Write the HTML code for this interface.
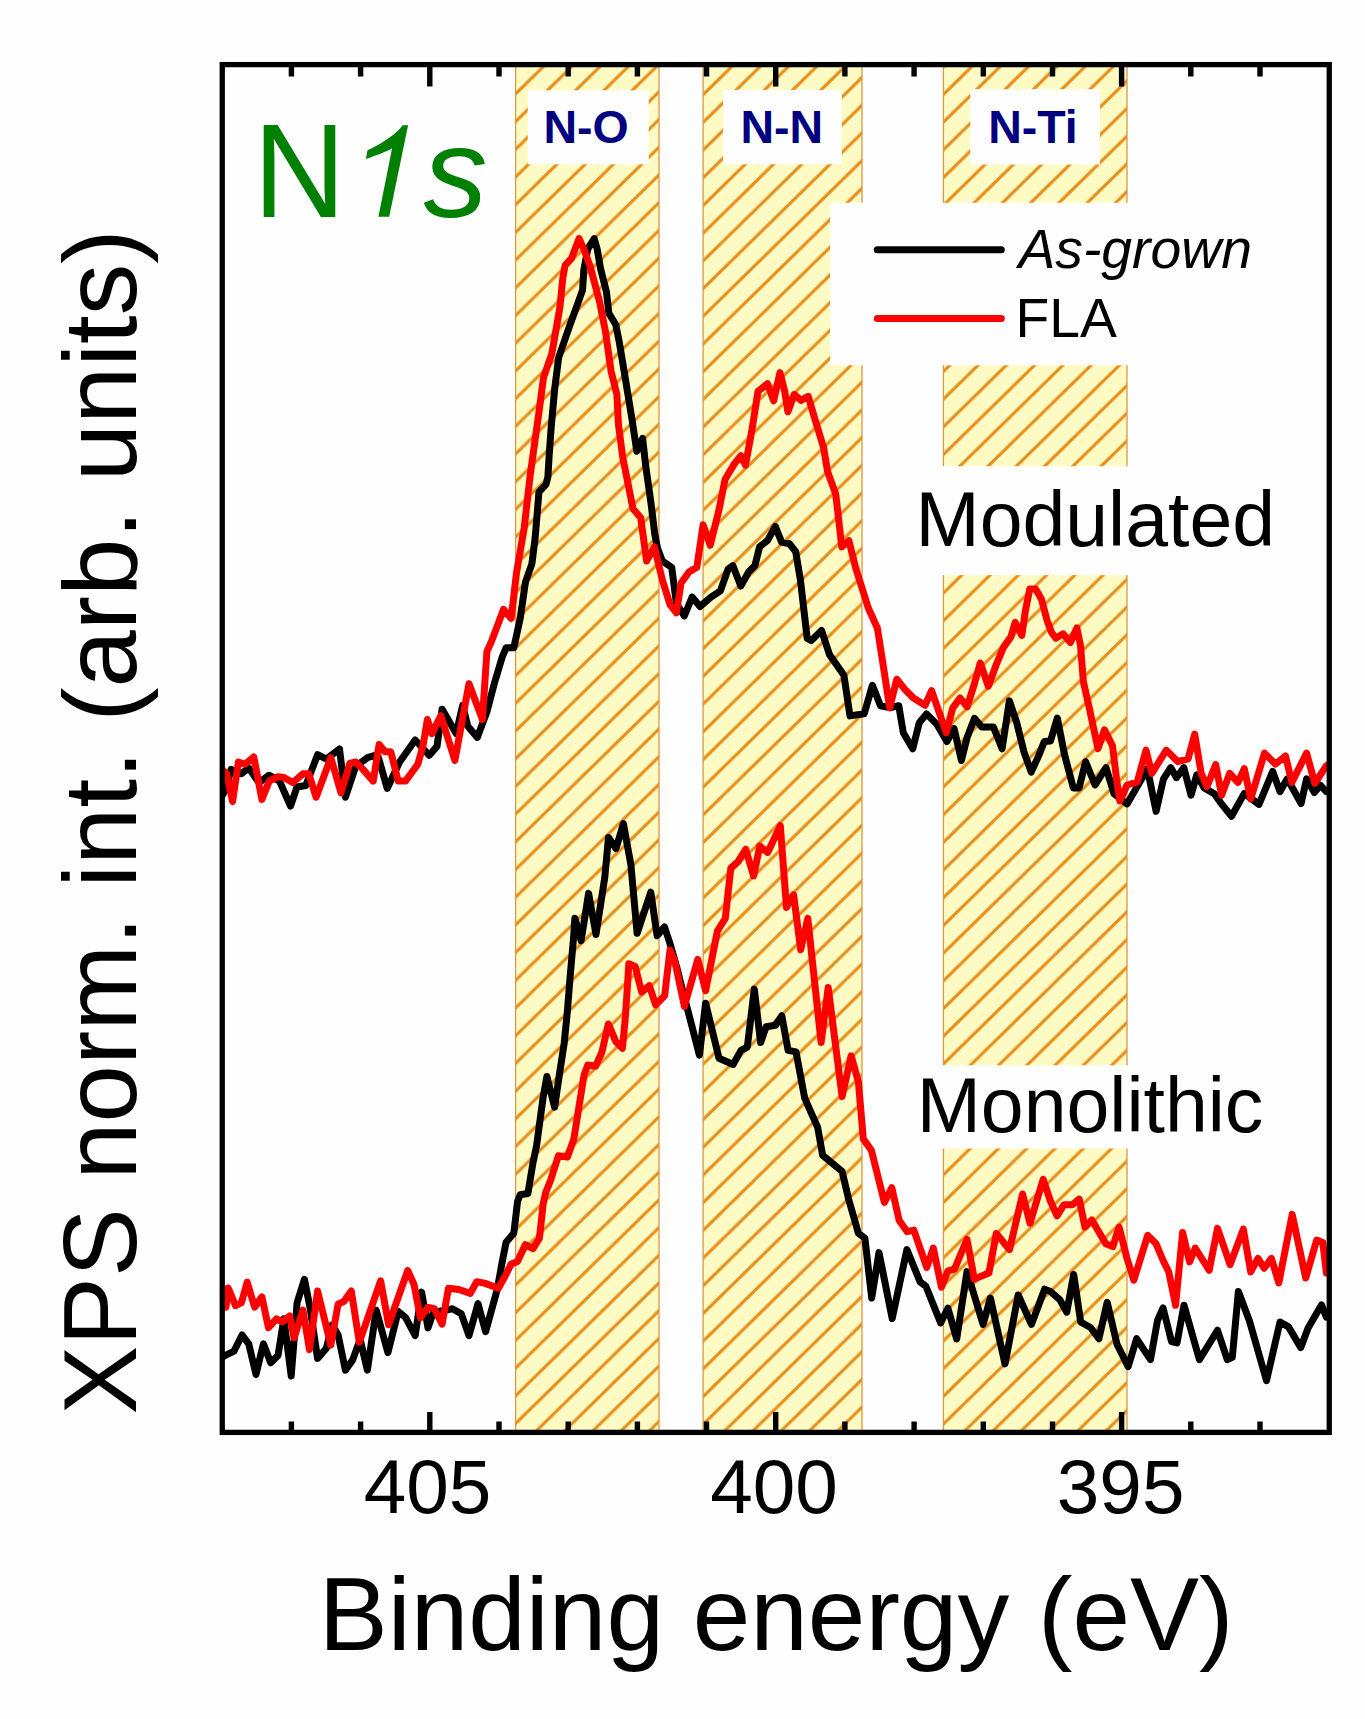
<!DOCTYPE html>
<html><head><meta charset="utf-8"><style>
html,body{margin:0;padding:0;background:#fefefe;}
svg{display:block;}
text{font-family:"Liberation Sans",sans-serif;}
</style></head><body>
<svg width="1365" height="1719" viewBox="0 0 1365 1719">
<defs>
<pattern id="h0" patternUnits="userSpaceOnUse" x="17.75" y="0" width="28.27" height="27.7">
<rect width="28.27" height="27.7" fill="#fdfac4"/>
<path d="M-2,29.66 L30.27,-1.96 M-2,1.96 L2,-1.96 M26.27,29.66 L30.27,25.74" stroke="#e68f1c" stroke-width="3.1" fill="none"/>
</pattern>
<pattern id="h1" patternUnits="userSpaceOnUse" x="8.20" y="0" width="28.27" height="27.7">
<rect width="28.27" height="27.7" fill="#fdfac4"/>
<path d="M-2,29.66 L30.27,-1.96 M-2,1.96 L2,-1.96 M26.27,29.66 L30.27,25.74" stroke="#e68f1c" stroke-width="3.1" fill="none"/>
</pattern>
<pattern id="h2" patternUnits="userSpaceOnUse" x="22.10" y="0" width="28.27" height="27.7">
<rect width="28.27" height="27.7" fill="#fdfac4"/>
<path d="M-2,29.66 L30.27,-1.96 M-2,1.96 L2,-1.96 M26.27,29.66 L30.27,25.74" stroke="#e68f1c" stroke-width="3.1" fill="none"/>
</pattern>
<clipPath id="plot"><rect x="222.2" y="64.6" width="1107.0" height="1367.8"/></clipPath>
</defs>
<rect width="1365" height="1719" fill="#fefefe"/>
<rect x="515.6" y="64.6" width="143.39999999999998" height="1367.8000000000002" fill="url(#h0)"/>
<line x1="515.6" y1="64.6" x2="515.6" y2="1432.4" stroke="#dc9644" stroke-width="1.3"/>
<line x1="659.0" y1="64.6" x2="659.0" y2="1432.4" stroke="#dc9644" stroke-width="1.3"/>
<rect x="703.1" y="64.6" width="158.89999999999998" height="1367.8000000000002" fill="url(#h1)"/>
<line x1="703.1" y1="64.6" x2="703.1" y2="1432.4" stroke="#dc9644" stroke-width="1.3"/>
<line x1="862.0" y1="64.6" x2="862.0" y2="1432.4" stroke="#dc9644" stroke-width="1.3"/>
<rect x="943.4" y="64.6" width="183.60000000000002" height="1367.8000000000002" fill="url(#h2)"/>
<line x1="943.4" y1="64.6" x2="943.4" y2="1432.4" stroke="#dc9644" stroke-width="1.3"/>
<line x1="1127.0" y1="64.6" x2="1127.0" y2="1432.4" stroke="#dc9644" stroke-width="1.3"/>
<rect x="527.8" y="90.3" width="120.9" height="74.0" fill="#fefefe"/>
<rect x="723.2" y="89.9" width="118.7" height="74.4" fill="#fefefe"/>
<rect x="970.3" y="89.2" width="129.7" height="75.4" fill="#fefefe"/>
<rect x="830.1" y="202.8" width="439.9" height="162.5" fill="#fefefe"/>
<rect x="905" y="466.2" width="380.0" height="108.9" fill="#fefefe"/>
<rect x="905" y="1065.3" width="380.0" height="83.2" fill="#fefefe"/>
<g clip-path="url(#plot)" fill="none" stroke-width="7" stroke-linejoin="round" stroke-linecap="round">
<polyline points="222.5,795.0 226.0,788.4 231.1,769.4 241.4,773.8 248.7,768.0 259.0,782.6 269.2,775.2 279.5,781.1 290.5,806.0 297.0,787.0 305.8,785.5 317.6,754.7 326.4,759.1 339.5,748.9 345.4,797.2 355.7,766.4 367.4,757.7 377.6,754.7 387.2,788.4 399.6,762.0 415.2,740.0 429.3,755.3 437.0,746.4 442.1,709.3 456.2,733.6 462.6,705.4 467.7,725.9 477.3,737.4 486.9,711.8 494.6,682.4 502.3,656.8 506.1,647.8 513.8,647.8 520.2,618.4 525.5,581.8 531.9,563.8 535.1,538.2 537.6,508.8 538.9,492.2 546.0,484.5 547.9,476.8 549.2,455.0 551.1,428.2 554.7,388.7 558.7,357.3 569.2,327.1 578.5,301.5 582.6,289.8 583.8,270.0 587.8,249.1 594.2,238.6 597.2,249.1 600.6,268.9 606.5,292.2 608.8,313.1 615.8,324.7 619.3,342.2 625.1,377.1 632.1,420.0 636.8,451.2 642.6,438.4 645.8,466.6 650.9,502.4 654.8,534.4 657.6,548.4 662.3,561.0 671.7,567.3 676.4,603.4 684.3,616.0 692.1,597.1 700.0,606.5 711.0,597.1 720.4,590.8 728.2,568.8 732.9,565.7 740.8,586.1 748.6,572.0 754.9,565.7 759.6,546.8 767.5,540.6 775.3,526.4 781.6,542.1 789.4,543.7 795.7,551.6 800.4,579.8 807.2,638.5 811.3,640.6 821.5,630.4 829.6,654.8 843.9,675.2 850.0,715.9 864.2,713.8 872.4,685.3 880.5,705.7 890.7,707.7 898.8,705.7 903.3,732.8 912.7,748.8 919.3,722.7 926.5,713.9 936.7,724.1 946.9,741.6 954.1,728.5 961.4,760.5 967.2,737.2 974.5,718.3 981.8,727.0 993.4,727.0 1002.1,748.8 1009.4,700.9 1016.7,722.7 1023.9,751.7 1031.2,772.1 1038.5,756.1 1044.3,741.6 1050.5,741.0 1057.3,718.1 1064.5,754.5 1073.3,787.9 1079.1,787.9 1085.6,761.7 1095.1,785.0 1106.0,767.6 1114.0,793.7 1127.1,803.9 1137.2,786.5 1147.4,769.0 1156.1,811.2 1163.4,779.2 1170.7,767.6 1176.5,777.7 1183.8,767.6 1191.0,795.2 1196.8,774.8 1204.1,787.9 1214.3,793.7 1220.5,802.6 1231.5,816.3 1244.3,793.4 1259.0,804.4 1272.7,771.4 1280.0,791.6 1287.3,778.8 1301.1,803.5 1306.6,778.8 1314.4,792.5 1320.3,785.2 1326.3,791.6 1329.0,790.0" stroke="#000"/>
<polyline points="222.5,770.0 226.7,773.8 232.6,801.6 238.4,762.0 245.0,764.2 253.8,756.9 261.9,799.4 269.2,781.1 278.0,776.7 283.9,777.4 292.7,782.6 302.9,773.8 308.8,773.8 316.1,797.2 330.8,757.7 341.0,792.8 349.8,763.5 355.7,762.0 363.0,769.4 373.2,781.1 379.1,744.5 385.0,751.8 390.8,751.8 398.2,781.1 405.5,781.1 417.8,764.3 422.9,746.4 427.4,719.5 431.9,733.6 440.8,715.7 454.9,760.4 469.0,683.7 482.4,719.5 486.9,651.7 492.0,640.1 503.5,609.4 511.2,618.4 516.5,572.8 524.2,528.0 530.0,476.8 534.4,444.8 538.9,412.8 543.6,377.1 551.8,353.8 559.9,307.3 562.8,278.2 565.1,265.4 571.5,258.4 579.1,238.6 584.3,250.3 590.2,266.5 599.5,301.5 605.3,330.6 611.1,371.3 616.9,394.6 618.5,425.0 622.8,457.6 633.0,508.8 640.7,517.8 646.6,561.0 654.4,546.8 662.3,579.8 670.1,604.9 676.4,612.8 681.1,583.0 689.0,572.0 696.8,567.3 703.1,524.9 710.2,545.3 718.8,510.7 725.1,479.3 734.5,463.6 740.8,455.8 745.5,465.2 751.8,430.7 758.0,391.4 767.5,383.6 773.7,400.8 780.0,372.6 784.7,391.4 787.9,411.8 794.2,394.5 801.1,400.4 808.2,396.3 815.4,420.7 823.5,447.2 827.6,471.6 835.7,494.0 841.8,546.9 848.9,540.8 856.1,569.3 868.3,608.0 877.4,628.3 882.5,660.9 889.7,707.7 896.8,679.2 904.7,689.2 913.4,698.0 925.1,705.2 931.6,690.7 938.2,709.6 946.2,732.8 952.7,708.1 960.0,698.0 967.2,706.7 974.5,683.4 980.3,663.0 988.3,686.3 996.3,664.5 1003.6,647.1 1010.9,636.9 1015.2,622.3 1021.8,635.4 1025.4,610.7 1029.8,588.9 1035.6,588.9 1041.4,599.1 1047.2,620.9 1051.6,632.5 1055.8,638.2 1063.1,633.8 1070.4,642.5 1076.9,628.0 1080.5,645.4 1083.4,681.8 1089.3,707.9 1098.0,748.7 1104.5,729.8 1112.5,745.7 1116.9,782.1 1119.8,801.0 1127.1,785.0 1137.2,782.1 1146.0,750.1 1151.8,773.4 1166.3,750.1 1177.9,761.7 1188.1,758.8 1194.7,734.1 1201.2,773.4 1207.0,786.5 1215.7,764.6 1221.6,795.2 1229.7,773.3 1237.9,782.4 1244.3,768.7 1250.7,798.9 1264.5,753.1 1275.4,764.1 1285.5,755.9 1291.9,782.4 1306.6,753.1 1314.8,783.3 1326.3,765.9 1329.0,764.0" stroke="#f00"/>
<polyline points="222.5,1357.0 225.3,1355.5 234.0,1351.1 242.1,1335.0 248.7,1343.8 256.0,1374.5 263.4,1343.8 270.7,1362.8 278.0,1355.5 283.9,1318.9 291.2,1376.0 297.1,1302.7 304.4,1279.3 310.2,1308.6 317.6,1358.4 326.4,1348.2 332.2,1324.7 338.1,1335.0 345.4,1370.1 352.7,1359.9 360.1,1339.4 367.4,1370.1 376.2,1310.1 387.9,1352.6 398.2,1311.5 405.5,1317.4 415.2,1335.6 421.6,1292.1 428.0,1327.9 433.2,1312.6 452.4,1308.7 461.3,1313.8 469.0,1335.6 478.0,1303.6 485.6,1331.7 497.2,1289.5 502.3,1261.4 506.1,1242.2 513.8,1233.2 517.6,1201.2 520.2,1194.8 527.9,1193.5 533.0,1162.8 536.6,1145.6 543.0,1098.2 546.9,1076.5 554.6,1107.2 559.7,1072.6 564.2,1043.2 567.4,1011.2 569.9,979.2 573.6,937.0 574.9,918.3 581.1,940.7 588.6,893.4 596.0,934.5 604.8,877.2 608.5,837.4 616.0,848.6 623.4,823.7 630.9,864.8 637.1,933.3 650.8,892.2 657.1,935.8 664.5,927.0 669.5,942.0 677.0,968.1 683.2,993.0 687.6,1009.5 699.4,1055.1 705.6,1003.2 719.0,1058.2 733.1,1064.5 741.0,1050.4 747.3,1047.2 754.3,989.1 760.6,1042.5 766.1,1026.8 775.5,1025.2 781.8,1015.8 788.1,1050.4 796.0,1051.9 804.7,1098.2 817.7,1127.5 822.6,1155.2 842.1,1171.4 848.6,1199.1 858.4,1233.3 864.9,1238.2 871.7,1298.0 879.0,1252.6 892.2,1318.5 906.9,1249.6 920.1,1281.9 925.9,1286.3 940.6,1322.9 947.9,1308.2 956.7,1339.0 967.0,1271.6 983.1,1324.4 990.4,1298.0 1005.0,1363.9 1018.2,1295.0 1031.4,1324.4 1044.6,1289.2 1050.0,1291.2 1059.8,1299.6 1066.8,1312.2 1073.7,1274.5 1080.7,1322.0 1090.5,1327.5 1098.9,1338.7 1107.2,1302.4 1117.0,1344.3 1128.2,1366.6 1136.6,1338.7 1150.5,1359.6 1157.5,1320.5 1163.1,1308.0 1171.5,1341.5 1177.0,1342.9 1184.0,1305.2 1199.4,1359.6 1217.5,1330.3 1227.3,1359.6 1232.3,1357.4 1238.4,1291.4 1249.4,1320.8 1266.5,1380.6 1280.0,1322.0 1288.5,1326.9 1300.8,1347.6 1308.1,1328.1 1321.5,1304.9 1326.4,1317.1 1329.0,1312.0" stroke="#000"/>
<polyline points="222.5,1300.0 226.0,1307.1 228.2,1288.1 235.5,1305.7 241.4,1302.7 247.2,1282.2 254.6,1307.1 261.9,1296.9 268.5,1327.7 276.5,1318.9 282.4,1321.8 289.7,1315.9 294.1,1337.9 302.9,1310.1 309.5,1349.6 317.6,1291.0 330.8,1345.2 338.1,1304.2 344.0,1301.3 351.3,1291.0 359.3,1342.3 380.6,1280.8 388.6,1324.7 407.7,1270.5 414.0,1284.4 420.4,1317.7 428.0,1307.4 434.4,1308.7 442.1,1324.1 448.5,1288.2 458.8,1289.5 470.3,1293.4 476.7,1281.8 484.4,1283.1 498.4,1288.2 504.8,1276.7 511.2,1263.9 517.6,1261.4 525.3,1244.7 533.0,1248.6 539.4,1238.3 543.2,1203.8 545.8,1192.2 550.7,1180.0 558.4,1155.8 567.4,1157.1 573.8,1139.2 578.9,1107.2 584.0,1075.2 587.8,1065.0 595.5,1066.2 601.9,1052.2 608.3,1024.0 616.0,1041.9 622.4,1048.3 625.0,1021.4 627.5,985.6 628.8,963.8 635.2,966.4 641.6,992.0 649.3,985.6 655.7,1004.8 664.6,995.8 670.0,950.0 675.0,962.0 684.4,1006.4 697.8,959.3 705.6,990.7 714.3,946.7 717.4,931.0 725.3,918.4 730.8,868.1 737.8,861.8 745.7,849.3 753.6,876.0 759.8,846.1 767.7,852.4 780.3,825.7 786.5,907.4 793.6,894.8 800.7,949.8 807.8,918.4 821.1,1042.5 828.2,987.5 842.1,1096.5 851.1,1055.8 858.4,1081.9 863.3,1138.9 871.4,1150.3 884.4,1202.4 891.8,1187.7 899.1,1220.3 907.2,1231.7 913.8,1230.1 926.8,1267.5 933.3,1248.0 941.4,1287.1 948.0,1270.8 954.5,1269.1 967.0,1239.4 974.3,1278.9 988.9,1273.1 996.3,1233.5 1009.5,1249.6 1022.6,1194.0 1030.0,1223.3 1043.2,1179.3 1050.5,1201.3 1057.0,1215.8 1064.0,1204.7 1072.3,1204.7 1079.3,1199.1 1084.9,1227.0 1091.9,1220.0 1105.8,1243.8 1112.8,1246.6 1119.1,1227.0 1126.8,1257.7 1133.8,1280.1 1147.7,1235.4 1156.1,1243.8 1163.1,1260.5 1168.7,1271.7 1175.6,1305.2 1182.6,1232.6 1189.6,1261.9 1195.2,1248.0 1209.2,1270.3 1217.5,1228.4 1230.1,1264.7 1243.3,1229.1 1250.7,1271.9 1258.0,1258.4 1264.1,1268.2 1271.4,1258.4 1278.8,1282.9 1292.2,1214.4 1305.7,1278.0 1316.7,1240.1 1322.8,1242.5 1326.4,1273.1 1329.0,1270.0" stroke="#f00"/>
</g>
<rect x="222.25" y="64.6" width="1107.0" height="1367.8" fill="none" stroke="#000" stroke-width="5.3"/>
<path d="M1260.0,64.6 V76.6 M1260.0,1432.4 V1421.6000000000001 M1190.8,64.6 V76.6 M1190.8,1432.4 V1421.6000000000001 M1121.6,64.6 V86.6 M1121.6,1432.4 V1411.9 M1052.5,64.6 V76.6 M1052.5,1432.4 V1421.6000000000001 M983.3,64.6 V76.6 M983.3,1432.4 V1421.6000000000001 M914.1,64.6 V76.6 M914.1,1432.4 V1421.6000000000001 M844.9,64.6 V76.6 M844.9,1432.4 V1421.6000000000001 M775.7,64.6 V86.6 M775.7,1432.4 V1411.9 M706.5,64.6 V76.6 M706.5,1432.4 V1421.6000000000001 M637.4,64.6 V76.6 M637.4,1432.4 V1421.6000000000001 M568.2,64.6 V76.6 M568.2,1432.4 V1421.6000000000001 M499.0,64.6 V76.6 M499.0,1432.4 V1421.6000000000001 M429.8,64.6 V86.6 M429.8,1432.4 V1411.9 M360.6,64.6 V76.6 M360.6,1432.4 V1421.6000000000001 M291.4,64.6 V76.6 M291.4,1432.4 V1421.6000000000001" stroke="#000" stroke-width="5.4" fill="none"/>
<text x="363.7" y="1513.3" font-size="76.5" fill="#000">405</text>
<text x="710.2" y="1513.3" font-size="76.5" fill="#000">400</text>
<text x="1056.8" y="1513.3" font-size="76.5" fill="#000">395</text>
<text x="318.7" y="1650" font-size="103.5" fill="#000">Binding energy (eV)</text>
<text transform="translate(135.6,1414.4) rotate(-90)" font-size="103" fill="#000">XPS norm. int. (arb. units)</text>
<text transform="translate(253.3,217) scale(1,1.042)" font-size="128" fill="#008000">N</text>
<path d="M378.4,216.7 L389.2,216.7 L408.1,125.2 L402.7,125.2 C397,133 385,142 367.5,150.2 L365.9,159.1 C376,155.5 386,152 392.1,148.3 Z" fill="#008000"/>
<text x="423.5" y="217" font-size="128" font-style="italic" fill="#008000">s</text>
<text x="543.4" y="143" font-size="46.5" font-weight="bold" fill="#000080">N-O</text>
<text x="740.4" y="143" font-size="46.5" font-weight="bold" fill="#000080">N-N</text>
<text x="988.2" y="143" font-size="46.5" font-weight="bold" fill="#000080">N-Ti</text>
<line x1="877.3" y1="249.7" x2="1001.3" y2="249.7" stroke="#000" stroke-width="7" stroke-linecap="round"/>
<line x1="877.3" y1="318.5" x2="1001.3" y2="318.5" stroke="#f00" stroke-width="7" stroke-linecap="round"/>
<text x="1018.4" y="268.3" font-size="55.3" font-style="italic" fill="#000">As-grown</text>
<text x="1015.6" y="336.5" font-size="55.3" fill="#000">FLA</text>
<text x="915.5" y="546" font-size="77" fill="#000">Modulated</text>
<text x="916.7" y="1132" font-size="77" fill="#000">Monolithic</text>
</svg></body></html>
